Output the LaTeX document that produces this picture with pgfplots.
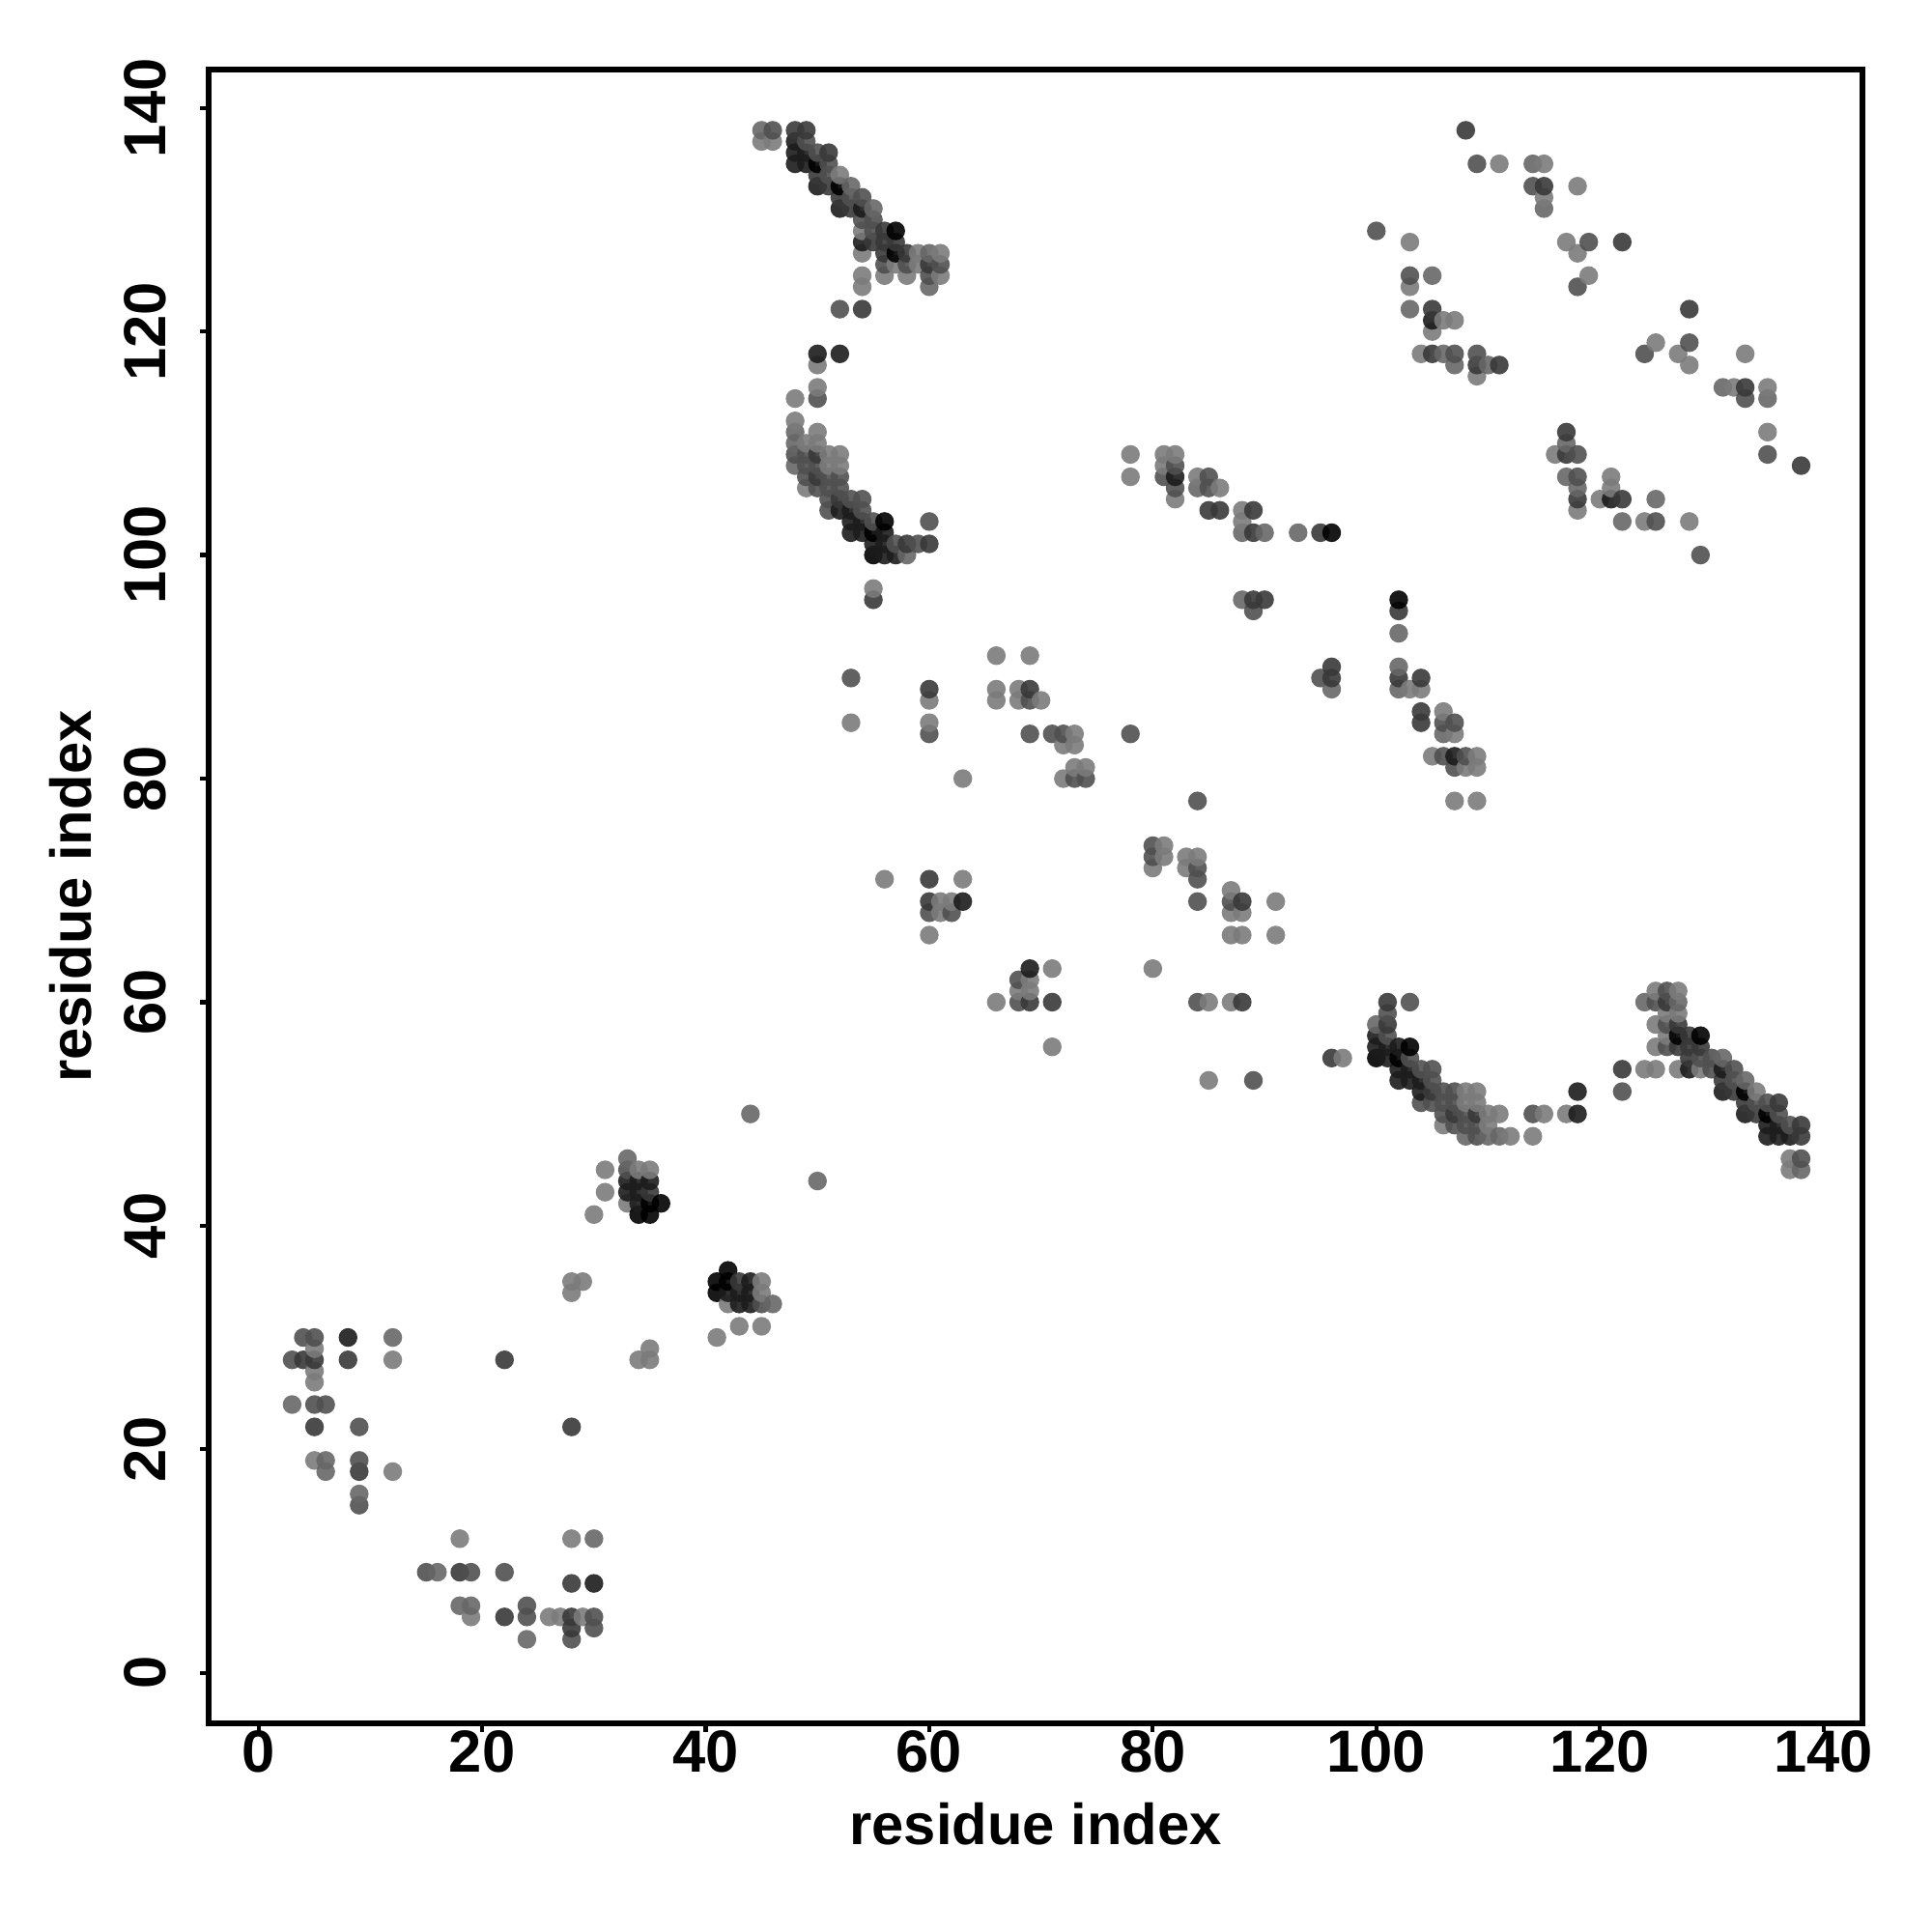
\documentclass[border=0pt]{standalone}
\usepackage{pgfplots}
\usepackage{pgfplotstable}
\usepackage{fontspec}
\setmainfont{Liberation Sans}
\pgfplotsset{compat=1.18}

% filled disc without outline
\pgfdeclareplotmark{disc}{\pgfpathcircle{\pgfpointorigin}{\pgfplotmarksize}\pgfusepathqfill}

% contacts in drawing order (x, then y); g = grey of the dot, 0 black .. 100 white
\pgfplotstableread[row sep=\\]{
x y g\\
3 24 40\\ 3 28 31\\ 4 28 22\\ 4 30 31\\
5 19 48\\ 5 22 22\\ 5 24 31\\ 5 26 48\\ 5 27 48\\ 5 28 22\\ 5 29 48\\ 5 30 31\\
6 18 40\\ 6 19 40\\ 6 24 31\\ 8 28 22\\ 8 30 11\\
9 15 31\\ 9 16 40\\ 9 18 22\\ 9 19 31\\ 9 22 31\\
12 18 48\\ 12 28 48\\ 12 30 40\\ 15 9 31\\ 16 9 40\\
18 6 40\\ 18 9 22\\ 18 12 48\\ 19 5 48\\ 19 6 40\\ 19 9 31\\
22 5 22\\ 22 9 31\\ 22 28 22\\ 24 3 40\\ 24 5 31\\ 24 6 31\\ 26 5 48\\ 27 5 48\\
28 3 31\\ 28 4 22\\ 28 5 22\\ 28 8 22\\ 28 12 48\\ 28 22 22\\ 28 34 48\\ 28 35 48\\
29 5 48\\ 29 35 48\\ 30 4 31\\ 30 5 31\\ 30 8 11\\ 30 12 40\\ 30 41 48\\
31 43 48\\ 31 45 48\\
33 42 48\\ 33 43 11\\ 33 44 11\\ 33 45 31\\ 33 46 40\\
34 28 48\\ 34 41 0\\ 34 42 11\\ 34 43 11\\ 34 44 11\\ 34 45 48\\
35 28 48\\ 35 29 48\\ 35 41 0\\ 35 42 0\\ 35 43 22\\ 35 44 11\\ 35 45 48\\ 36 42 0\\
41 30 48\\ 41 34 0\\ 41 35 0\\ 42 33 48\\ 42 34 11\\ 42 35 0\\ 42 36 0\\
43 31 48\\ 43 33 11\\ 43 34 11\\ 43 35 22\\ 44 33 11\\ 44 34 11\\ 44 35 11\\ 44 50 40\\
45 31 48\\ 45 33 31\\ 45 34 48\\ 45 35 48\\ 45 137 48\\ 45 138 40\\ 46 33 40\\ 46 137 48\\ 46 138 31\\
48 108 40\\ 48 109 31\\ 48 110 40\\ 48 111 40\\ 48 112 48\\ 48 114 48\\ 48 135 11\\ 48 136 11\\ 48 137 11\\ 48 138 22\\
49 106 48\\ 49 107 31\\ 49 108 31\\ 49 109 31\\ 49 110 48\\ 49 135 11\\ 49 136 11\\ 49 137 31\\ 49 138 22\\
50 44 40\\ 50 106 31\\ 50 107 22\\ 50 108 31\\ 50 109 22\\ 50 110 48\\ 50 111 48\\ 50 114 31\\ 50 115 48\\ 50 117 48\\ 50 118 11\\ 50 133 11\\ 50 134 22\\ 50 135 0\\ 50 136 31\\
51 104 31\\ 51 105 31\\ 51 106 31\\ 51 107 31\\ 51 108 48\\ 51 109 48\\ 51 133 22\\ 51 134 31\\ 51 135 31\\ 51 136 22\\
52 104 11\\ 52 105 22\\ 52 106 31\\ 52 107 31\\ 52 108 48\\ 52 109 48\\ 52 118 11\\ 52 122 31\\ 52 131 11\\ 52 132 22\\ 52 133 0\\ 52 134 48\\
53 85 48\\ 53 89 31\\ 53 102 11\\ 53 103 11\\ 53 104 11\\ 53 105 31\\ 53 131 22\\ 53 132 31\\ 53 133 40\\
54 102 11\\ 54 103 11\\ 54 104 31\\ 54 105 31\\ 54 122 22\\ 54 124 48\\ 54 125 48\\ 54 127 48\\ 54 128 11\\ 54 129 48\\ 54 130 31\\ 54 131 11\\ 54 132 31\\
55 96 22\\ 55 97 48\\ 55 100 0\\ 55 101 11\\ 55 102 0\\ 55 103 31\\ 55 128 22\\ 55 129 31\\ 55 130 31\\ 55 131 40\\
56 71 48\\ 56 100 11\\ 56 101 11\\ 56 102 11\\ 56 103 0\\ 56 125 48\\ 56 126 31\\ 56 127 22\\ 56 128 22\\ 56 129 22\\
57 100 11\\ 57 101 31\\ 57 126 48\\ 57 127 0\\ 57 128 22\\ 57 129 0\\
58 100 40\\ 58 101 22\\ 58 125 48\\ 58 126 31\\ 58 127 22\\ 59 101 31\\ 59 126 48\\ 59 127 48\\
60 66 48\\ 60 68 31\\ 60 69 22\\ 60 71 22\\ 60 84 31\\ 60 85 48\\ 60 87 48\\ 60 88 22\\ 60 101 22\\ 60 103 31\\ 60 124 40\\ 60 125 31\\ 60 126 22\\ 60 127 40\\
61 68 48\\ 61 69 48\\ 61 125 48\\ 61 126 31\\ 61 127 48\\ 62 68 31\\ 62 69 48\\ 63 69 11\\ 63 71 48\\ 63 80 48\\
66 60 48\\ 66 87 48\\ 66 88 48\\ 66 91 48\\ 68 60 31\\ 68 61 48\\ 68 62 31\\ 68 87 48\\ 68 88 48\\
69 60 22\\ 69 61 48\\ 69 62 48\\ 69 63 11\\ 69 84 31\\ 69 87 31\\ 69 88 22\\ 69 91 48\\ 70 87 48\\
71 56 48\\ 71 60 22\\ 71 63 48\\ 71 84 31\\ 72 80 48\\ 72 83 48\\ 72 84 31\\
73 80 31\\ 73 81 48\\ 73 83 48\\ 73 84 48\\ 74 80 31\\ 74 81 48\\ 78 84 31\\ 78 107 48\\ 78 109 48\\
80 63 48\\ 80 72 48\\ 80 73 31\\ 80 74 31\\ 81 73 48\\ 81 74 48\\ 81 107 31\\ 81 108 48\\ 81 109 48\\
82 105 48\\ 82 106 31\\ 82 107 11\\ 82 108 31\\ 82 109 48\\ 83 72 48\\ 83 73 48\\
84 60 31\\ 84 69 31\\ 84 71 31\\ 84 72 31\\ 84 73 48\\ 84 78 31\\ 84 106 40\\ 84 107 48\\
85 53 48\\ 85 60 48\\ 85 104 22\\ 85 106 31\\ 85 107 31\\ 86 104 22\\ 86 106 48\\
87 60 48\\ 87 66 48\\ 87 68 48\\ 87 69 31\\ 87 70 48\\
88 60 22\\ 88 66 48\\ 88 68 48\\ 88 69 22\\ 88 96 40\\ 88 102 40\\ 88 103 48\\ 88 104 48\\
89 53 31\\ 89 95 31\\ 89 96 22\\ 89 102 22\\ 89 104 22\\ 90 96 22\\ 90 102 40\\ 91 66 48\\ 91 69 48\\ 93 102 40\\ 95 89 31\\ 95 102 22\\
96 55 22\\ 96 88 40\\ 96 89 22\\ 96 90 22\\ 96 102 0\\ 97 55 48\\
100 55 0\\ 100 56 11\\ 100 57 11\\ 100 58 40\\ 100 129 31\\
101 55 11\\ 101 56 11\\ 101 57 31\\ 101 58 22\\ 101 59 31\\ 101 60 22\\
102 53 11\\ 102 54 11\\ 102 55 0\\ 102 56 11\\ 102 88 40\\ 102 89 22\\ 102 90 40\\ 102 93 40\\ 102 95 22\\ 102 96 0\\
103 53 11\\ 103 54 11\\ 103 55 31\\ 103 56 0\\ 103 60 31\\ 103 88 48\\ 103 122 40\\ 103 124 48\\ 103 125 31\\ 103 128 48\\
104 51 31\\ 104 52 11\\ 104 53 11\\ 104 54 31\\ 104 85 22\\ 104 86 22\\ 104 88 48\\ 104 89 22\\ 104 118 48\\
105 51 31\\ 105 52 22\\ 105 53 31\\ 105 54 31\\ 105 82 48\\ 105 118 22\\ 105 120 48\\ 105 121 11\\ 105 122 22\\ 105 125 40\\
106 49 48\\ 106 50 31\\ 106 51 31\\ 106 52 31\\ 106 82 31\\ 106 84 40\\ 106 85 31\\ 106 86 48\\ 106 118 40\\ 106 121 48\\
107 49 31\\ 107 50 22\\ 107 51 31\\ 107 52 31\\ 107 78 48\\ 107 81 31\\ 107 82 11\\ 107 84 48\\ 107 85 31\\ 107 117 40\\ 107 118 31\\ 107 121 48\\
108 48 40\\ 108 49 31\\ 108 50 31\\ 108 51 48\\ 108 52 48\\ 108 81 48\\ 108 82 31\\ 108 138 22\\
109 48 31\\ 109 49 31\\ 109 50 22\\ 109 51 48\\ 109 52 48\\ 109 78 48\\ 109 81 48\\ 109 82 48\\ 109 116 48\\ 109 117 22\\ 109 118 31\\ 109 135 31\\
110 48 40\\ 110 49 48\\ 110 50 48\\ 110 117 40\\ 111 48 40\\ 111 50 48\\ 111 117 22\\ 111 135 48\\ 112 48 48\\
114 48 48\\ 114 50 31\\ 114 133 31\\ 114 135 40\\ 115 50 48\\ 115 131 40\\ 115 132 48\\ 115 133 22\\ 115 135 48\\ 116 109 48\\
117 50 48\\ 117 107 40\\ 117 109 22\\ 117 110 40\\ 117 111 22\\ 117 128 48\\
118 50 11\\ 118 52 11\\ 118 104 48\\ 118 105 22\\ 118 106 40\\ 118 107 31\\ 118 109 31\\ 118 124 31\\ 118 127 48\\ 118 133 48\\
119 125 48\\ 119 128 31\\ 120 105 48\\ 121 105 11\\ 121 106 48\\ 121 107 48\\
122 52 31\\ 122 54 22\\ 122 103 40\\ 122 105 22\\ 122 128 22\\
124 54 48\\ 124 60 40\\ 124 103 48\\ 124 118 31\\
125 54 48\\ 125 56 48\\ 125 58 48\\ 125 60 31\\ 125 61 48\\ 125 103 31\\ 125 105 40\\ 125 119 48\\
126 56 31\\ 126 57 48\\ 126 58 31\\ 126 59 48\\ 126 60 22\\ 126 61 31\\
127 54 48\\ 127 56 22\\ 127 57 0\\ 127 58 22\\ 127 59 48\\ 127 60 40\\ 127 61 48\\ 127 118 48\\
128 54 11\\ 128 55 22\\ 128 56 22\\ 128 57 22\\ 128 103 48\\ 128 117 48\\ 128 119 31\\ 128 122 22\\
129 54 48\\ 129 55 31\\ 129 56 22\\ 129 57 0\\ 129 100 31\\ 130 54 31\\ 130 55 31\\
131 52 11\\ 131 53 22\\ 131 54 11\\ 131 55 40\\ 131 115 40\\ 132 52 22\\ 132 53 31\\ 132 54 31\\ 132 115 48\\
133 50 11\\ 133 51 22\\ 133 52 0\\ 133 53 40\\ 133 114 31\\ 133 115 22\\ 133 118 48\\ 134 50 22\\ 134 51 31\\ 134 52 48\\
135 48 11\\ 135 49 11\\ 135 50 0\\ 135 51 31\\ 135 109 31\\ 135 111 48\\ 135 114 40\\ 135 115 48\\
136 48 11\\ 136 49 11\\ 136 50 31\\ 136 51 22\\ 137 45 48\\ 137 46 48\\ 137 48 11\\ 137 49 31\\
138 45 40\\ 138 46 31\\ 138 48 22\\ 138 49 22\\ 138 108 22\\
}\contacts

\begin{document}
\begin{tikzpicture}
\useasboundingbox (0,0) rectangle (20cm,20cm);
\begin{axis}[
    at={(2.16cm,2.16cm)}, anchor=south west,
    scale only axis,
    width=17.12cm, height=17.118cm,
    xmin=-4.47, xmax=143.49,
    ymin=-4.52, ymax=143.42,
    xtick={0,20,...,140}, ytick={0,20,...,140},
    xtick pos=bottom, ytick pos=left,
    tick align=outside,
    major tick length=0.09cm,
    tick style={black,line width=1.2pt},
    axis line style={line width=1.6pt},
    /pgf/number format/assume math mode=true,
    ticklabel style={font=\fontsize{17.5}{20}\selectfont\bfseries},
    y tick label style={rotate=90,anchor=south},
    yticklabel shift=0.22cm,
    xticklabel shift=-0.14cm,
    label style={font=\fontsize{17}{20}\selectfont\bfseries},
    xlabel={residue index}, xlabel shift=0.07cm,
    ylabel={residue index}, ylabel shift=0.1cm,
    colormap={bw}{gray(0cm)=(0); gray(1cm)=(1)},
    point meta min=0, point meta max=100,
]
\addplot[scatter, only marks, mark=disc, mark size=0.097cm,
    scatter/use mapped color={fill=mapped color},
    mark options={fill opacity=0.9},
    point meta=explicit]
    table[x=x,y=y,meta=g] {\contacts};
\end{axis}
\end{tikzpicture}
\end{document}
